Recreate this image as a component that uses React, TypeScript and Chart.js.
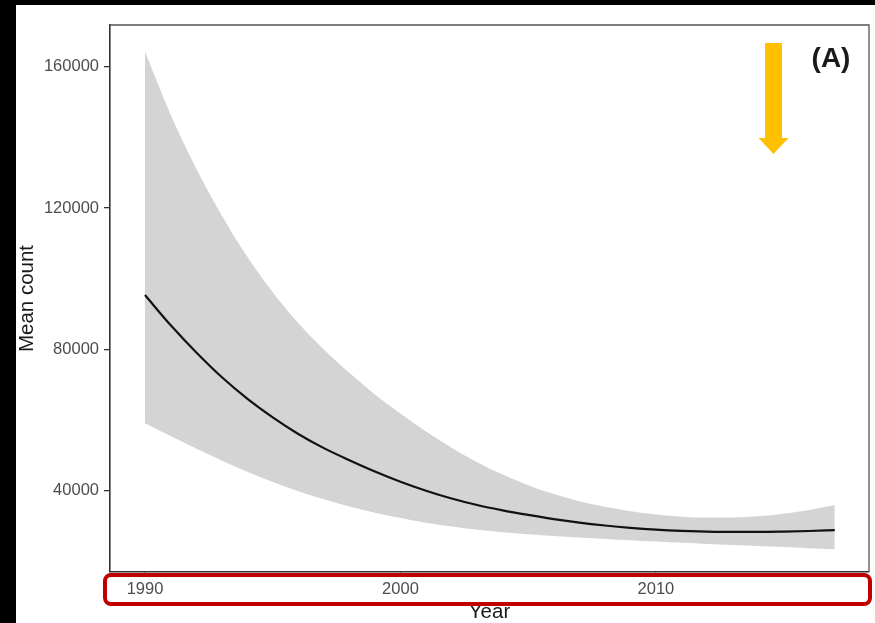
import { useEffect, useRef } from "react";
import { Chart, registerables } from "chart.js";

Chart.register(...registerables);

const years = [1990, 1991, 1992, 1993, 1994, 1995, 1996, 1997, 1998, 1999, 2000, 2001, 2002, 2003, 2004, 2005, 2006, 2007, 2008, 2009, 2010, 2011, 2012, 2013, 2014, 2015, 2016, 2017];
const meanCount = [95400, 86900, 79200, 72200, 66100, 60800, 56100, 52100, 48700, 45500, 42600, 40050, 37850, 36000, 34500, 33200, 32000, 31000, 30200, 29550, 29050, 28700, 28480, 28380, 28380, 28480, 28650, 28900];
const upperCI = [164200, 146500, 131300, 118000, 106300, 96200, 87500, 80000, 73400, 67300, 61900, 56800, 52200, 48100, 44600, 41600, 39100, 37100, 35500, 34250, 33300, 32700, 32450, 32450, 32800, 33500, 34600, 36000];
const lowerCI = [59100, 55500, 52000, 48600, 45400, 42500, 39900, 37600, 35600, 33800, 32300, 31000, 29900, 29000, 28300, 27700, 27200, 26800, 26400, 26000, 25650, 25300, 25000, 24700, 24400, 24100, 23800, 23500];
const yTickValues = [40000, 80000, 120000, 160000];
const xTickValues = [1990, 2000, 2010];
const panelLabel = "(A)";
const xTitle = "Year";
const yTitle = "Mean count";

const FONT = "'Liberation Sans', Arial, Helvetica, sans-serif";

const decorPlugin = {
  id: "decor",
  afterDraw(chart: any) {
    const { ctx, chartArea } = chart;
    const { left, top, right, bottom } = chartArea;
    ctx.save();
    // top & right panel border
    ctx.strokeStyle = "#555555";
    ctx.lineWidth = 1.3;
    ctx.beginPath();
    ctx.moveTo(left, top);
    ctx.lineTo(right, top);
    ctx.lineTo(right, bottom);
    ctx.stroke();

    // orange arrow
    ctx.fillStyle = "#FFC000";
    const sx1 = right - 104;
    const sx2 = right - 87;
    const cx = (sx1 + sx2) / 2;
    ctx.beginPath();
    ctx.moveTo(sx1, top + 18);
    ctx.lineTo(sx2, top + 18);
    ctx.lineTo(sx2, top + 113);
    ctx.lineTo(cx + 15, top + 113);
    ctx.lineTo(cx, top + 129);
    ctx.lineTo(cx - 15, top + 113);
    ctx.lineTo(sx1, top + 113);
    ctx.closePath();
    ctx.fill();

    // panel label
    ctx.fillStyle = "#1a1a1a";
    ctx.font = `bold 28px ${FONT}`;
    ctx.textAlign = "center";
    ctx.textBaseline = "middle";
    ctx.fillText(panelLabel, right - 38, top + 34);

    // red highlight box around x-axis labels
    ctx.strokeStyle = "#C00000";
    ctx.lineWidth = 4;
    const bx = left - 5;
    const by = bottom + 3;
    const bw = right + 1 - bx;
    const bh = 29;
    const r = 6;
    ctx.beginPath();
    ctx.moveTo(bx + r, by);
    ctx.lineTo(bx + bw - r, by);
    ctx.arcTo(bx + bw, by, bx + bw, by + r, r);
    ctx.lineTo(bx + bw, by + bh - r);
    ctx.arcTo(bx + bw, by + bh, bx + bw - r, by + bh, r);
    ctx.lineTo(bx + r, by + bh);
    ctx.arcTo(bx, by + bh, bx, by + bh - r, r);
    ctx.lineTo(bx, by + r);
    ctx.arcTo(bx, by, bx + r, by, r);
    ctx.closePath();
    ctx.stroke();
    ctx.restore();
  },
};

export default function App() {
  const ref = useRef<HTMLCanvasElement | null>(null);

  useEffect(() => {
    if (!ref.current) return;
    const pts = (vals: number[]) => years.map((y, i) => ({ x: y, y: vals[i] }));
    const chart = new Chart(ref.current, {
      type: "line",
      data: {
        datasets: [
          {
            label: "mean",
            data: pts(meanCount),
            borderColor: "#111111",
            borderWidth: 2.2,
            pointRadius: 0,
            fill: false,
            cubicInterpolationMode: "monotone",
            order: 0,
          },
          {
            label: "upper",
            data: pts(upperCI),
            borderWidth: 0,
            borderColor: "rgba(0,0,0,0)",
            backgroundColor: "#d4d4d4",
            pointRadius: 0,
            fill: "+1",
            cubicInterpolationMode: "monotone",
            order: 1,
          },
          {
            label: "lower",
            data: pts(lowerCI),
            borderWidth: 0,
            borderColor: "rgba(0,0,0,0)",
            pointRadius: 0,
            fill: false,
            cubicInterpolationMode: "monotone",
            order: 2,
          },
        ],
      },
      options: {
        animation: false,
        responsive: false,
        maintainAspectRatio: false,
        layout: { padding: { left: 15, top: 25, right: 6, bottom: 0 } },
        plugins: {
          legend: { display: false },
          tooltip: { enabled: false },
        },
        scales: {
          x: {
            type: "linear",
            min: 1988.63,
            max: 2018.34,
            afterBuildTicks: (s: any) => {
              s.ticks = xTickValues.map((v) => ({ value: v }));
            },
            afterFit: (s: any) => {
              s.height = 51;
            },
            grid: { drawOnChartArea: false, drawTicks: true, tickLength: 5, color: "#333333", lineWidth: 1.3 },
            border: { display: true, color: "#333333", width: 1.6 },
            ticks: {
              autoSkip: false,
              maxRotation: 0,
              padding: 3,
              color: "#4d4d4d",
              font: { family: FONT, size: 16.5 },
              callback: (v: any) => String(v),
            },
            title: {
              display: true,
              text: xTitle,
              color: "#1a1a1a",
              font: { family: FONT, size: 20.5, lineHeight: 1 },
              padding: { top: 0, bottom: 0 },
            },
          },
          y: {
            type: "linear",
            min: 17050,
            max: 171800,
            afterBuildTicks: (s: any) => {
              s.ticks = yTickValues.map((v) => ({ value: v }));
            },
            afterFit: (s: any) => {
              s.width = 95;
            },
            grid: { drawOnChartArea: false, drawTicks: true, tickLength: 6, color: "#333333", lineWidth: 1.3 },
            border: { display: true, color: "#333333", width: 1.6 },
            ticks: {
              autoSkip: false,
              padding: 5,
              color: "#4d4d4d",
              font: { family: FONT, size: 16.5 },
              callback: (v: any) => String(v),
            },
            title: {
              display: true,
              text: yTitle,
              color: "#1a1a1a",
              font: { family: FONT, size: 20.5, lineHeight: 1.2 },
              padding: { top: 0, bottom: 0 },
            },
          },
        },
      },
      plugins: [decorPlugin],
    });
    return () => chart.destroy();
  }, []);

  return (
    <div style={{ position: "fixed", left: 0, top: 0, width: 875, height: 623, background: "#000", overflow: "hidden" }}>
      <div style={{ position: "absolute", left: 16, top: 5, right: 0, bottom: 0, background: "#fff" }} />
      <canvas
        ref={ref}
        width={875}
        height={623}
        style={{ position: "absolute", left: 0, top: 0, width: 875, height: 623 }}
      />
    </div>
  );
}
